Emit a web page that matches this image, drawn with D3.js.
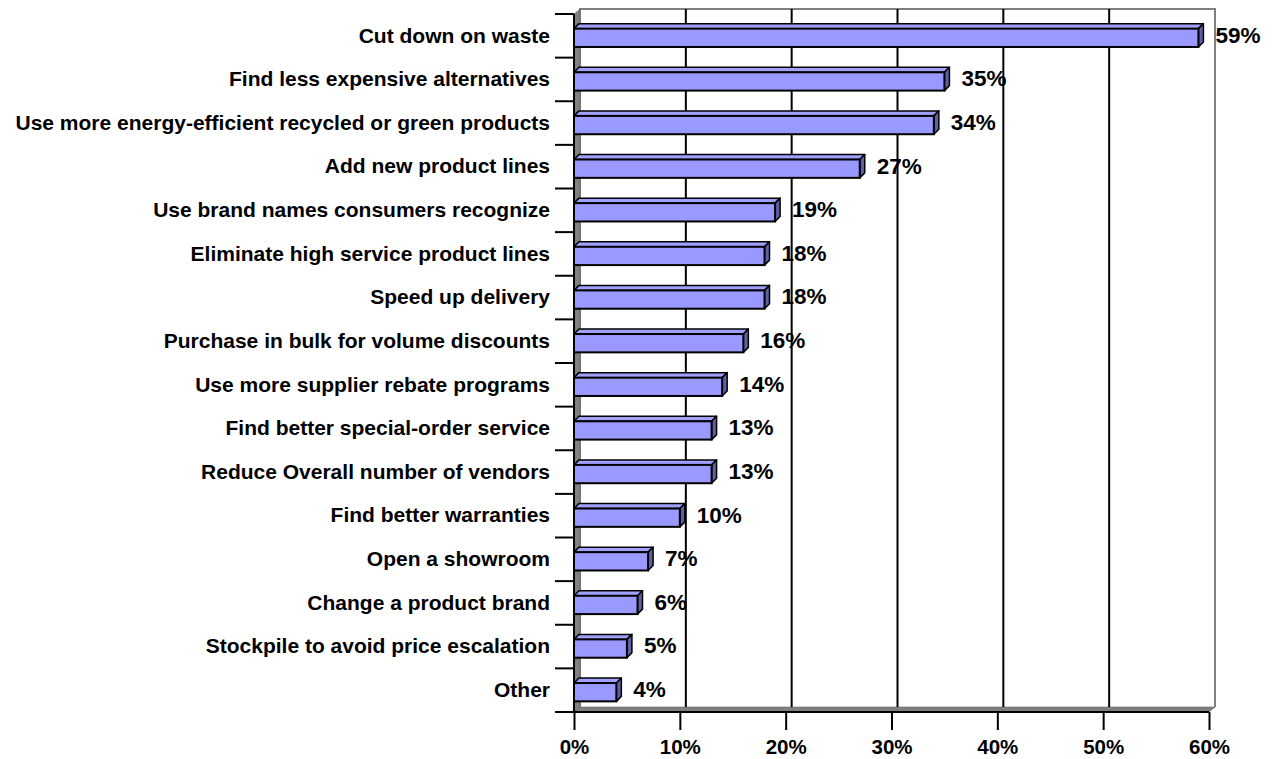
<!DOCTYPE html>
<html>
<head>
<meta charset="utf-8">
<script src="https://cdn.jsdelivr.net/npm/d3@7"></script>
<style>
  body { margin: 0; background: #fff; }
  svg text { font-family: Arial, "Liberation Sans", sans-serif; font-weight: bold; fill: #000; }
</style>
</head>
<body>
<svg id="chart" width="1276" height="759"></svg>
<script>
// ── Data ───────────────────────────────────────────────────────────────────
const CATEGORIES = [
    "Cut down on waste",
    "Find less expensive alternatives",
    "Use more energy-efficient recycled or green products",
    "Add new product lines",
    "Use brand names consumers recognize",
    "Eliminate high service product lines",
    "Speed up delivery",
    "Purchase in bulk for volume discounts",
    "Use more supplier rebate programs",
    "Find better special-order service",
    "Reduce Overall number of vendors",
    "Find better warranties",
    "Open a showroom",
    "Change a product brand",
    "Stockpile to avoid price escalation",
    "Other",
];
const VALUES = [0.59, 0.35, 0.34, 0.27, 0.19, 0.18, 0.18, 0.16, 0.14, 0.13, 0.13, 0.10, 0.07, 0.06, 0.05, 0.04];
const X_TICKS = [0, 0.1, 0.2, 0.3, 0.4, 0.5, 0.6];

// ── Layout ─────────────────────────────────────────────────────────────────
const plot = { left: 574, right: 1209, top: 14, bottom: 712 };
const depth = { dx: 6, dy: -5 };      // back-wall offset
const barDepth = { dx: 5, dy: -5 };
const FILL = "#9999ff", TOP = "#a0a0ff", SIDE = "#5f5fa6", WALL = "#808080";

const svg = d3.select("#chart");

const x = d3.scaleLinear().domain([0, 0.6]).range([plot.left, plot.right]);
const y = d3.scaleBand().domain(CATEGORIES).range([plot.top, plot.bottom]);
const barH = y.bandwidth() * 0.42;

// ── Walls ──────────────────────────────────────────────────────────────────
const bx0 = plot.left + depth.dx, bx1 = plot.right + depth.dx;
const by0 = plot.top + depth.dy, by1 = plot.bottom + depth.dy;

// back wall
svg.append("path")
    .attr("d", `M${bx0},${by1}V${by0}H${bx1}V${by1}`)
    .attr("fill", "#fff").attr("stroke", WALL).attr("stroke-width", 2);

// left wall
svg.append("polygon")
    .attr("points", [[plot.left, plot.top], [bx0, by0], [bx0, by1], [plot.left, plot.bottom]].join(" "))
    .attr("fill", WALL).attr("stroke", "#555").attr("stroke-width", 0.5);

// floor
svg.append("polygon")
    .attr("points", [[plot.left, plot.bottom], [bx0, by1], [bx1, by1], [plot.right, plot.bottom]].join(" "))
    .attr("fill", WALL).attr("stroke", "#555").attr("stroke-width", 0.5);

// gridlines on back wall
svg.append("g").selectAll("line")
    .data(X_TICKS.slice(1, -1)).join("line")
    .attr("x1", d => x(d) + depth.dx).attr("x2", d => x(d) + depth.dx)
    .attr("y1", by0).attr("y2", by1)
    .attr("stroke", "#000").attr("stroke-width", 2);

// ── Bars ───────────────────────────────────────────────────────────────────
const bars = svg.append("g").selectAll("g")
    .data(CATEGORIES.map((c, i) => ({ cat: c, v: VALUES[i] }))).join("g");

bars.each(function(d) {
    const g = d3.select(this);
    const x0 = x(0), x1 = x(d.v);
    const y0 = y(d.cat) + (y.bandwidth() - barH) / 2 + 2, y1 = y0 + barH;
    const { dx, dy } = barDepth;
    g.append("polygon")
        .attr("points", [[x0, y0], [x0 + dx, y0 + dy], [x1 + dx, y0 + dy], [x1, y0]].join(" "))
        .attr("fill", TOP).attr("stroke", "#000").attr("stroke-width", 1.5).attr("stroke-linejoin", "round");
    g.append("polygon")
        .attr("points", [[x1, y0], [x1 + dx, y0 + dy], [x1 + dx, y1 + dy], [x1, y1]].join(" "))
        .attr("fill", SIDE).attr("stroke", "#000").attr("stroke-width", 1.5).attr("stroke-linejoin", "round");
    g.append("rect")
        .attr("x", x0).attr("y", y0).attr("width", x1 - x0).attr("height", barH)
        .attr("fill", FILL).attr("stroke", "#000").attr("stroke-width", 2);
    g.append("text")
        .attr("x", x1 + 17).attr("y", y0 + barH / 2 - 3)
        .attr("dy", "0.35em")
        .attr("font-size", 22.5)
        .text(d3.format(".0%")(d.v));
});

// ── Axes ───────────────────────────────────────────────────────────────────
const xAxis = svg.append("g")
    .attr("transform", `translate(0,${plot.bottom})`)
    .call(d3.axisBottom(x).tickValues(X_TICKS).tickFormat(d3.format(".0%")).tickSize(18).tickPadding(9));
xAxis.select(".domain").attr("stroke", "#000").attr("stroke-width", 2).attr("d", `M${plot.left},0H${plot.right}`);
xAxis.selectAll(".tick line").attr("stroke", "#000").attr("stroke-width", 2);
xAxis.selectAll(".tick text").attr("font-size", 20.5).attr("font-family", null);

const yAxis = svg.append("g")
    .attr("transform", `translate(${plot.left},0)`)
    .call(d3.axisLeft(y).tickSize(0).tickPadding(24));
yAxis.select(".domain").attr("stroke", "#000").attr("stroke-width", 2).attr("d", `M0,${plot.top}V${plot.bottom}`);
yAxis.selectAll(".tick text").attr("font-size", 21).attr("font-family", null);

// category boundary ticks
svg.append("g").selectAll("line")
    .data(d3.range(CATEGORIES.length + 1)).join("line")
    .attr("x1", plot.left - 19).attr("x2", plot.left)
    .attr("y1", i => plot.top + i * y.step()).attr("y2", i => plot.top + i * y.step())
    .attr("stroke", "#000").attr("stroke-width", 2);
</script>
</body>
</html>
